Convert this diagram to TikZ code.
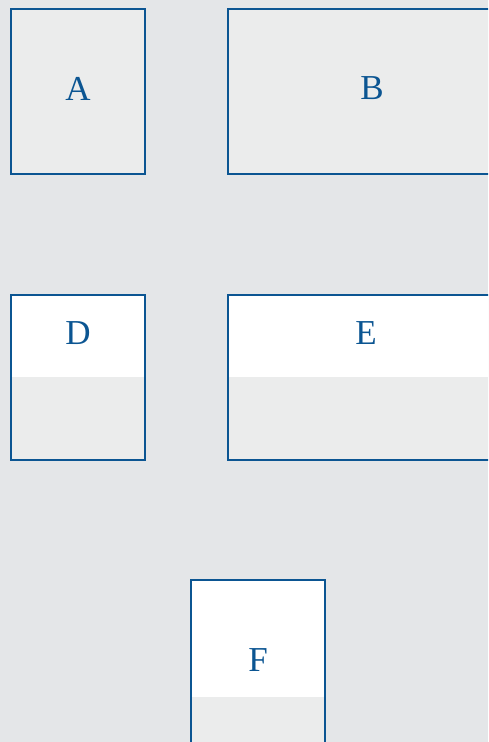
\documentclass[tikz,border=0pt]{standalone}
\usepackage{fontspec}
\setmainfont{Liberation Serif}
\definecolor{bg}{HTML}{E4E6E8}
\definecolor{boxgray}{HTML}{EBECEC}
\definecolor{edge}{HTML}{0B5592}
\begin{document}
\begin{tikzpicture}[x=1pt,y=-1pt,
  box/.style={rectangle,inner sep=0pt,outer sep=0pt,anchor=north west,fill=boxgray,minimum height=165pt},
  border/.style={draw=edge,line width=2.5pt},
  lbl/.style={text=edge,font=\fontsize{35}{40}\selectfont,inner sep=0pt,anchor=base}]
\useasboundingbox (0,0) rectangle (488,742);
\clip (0,0) rectangle (488,742);
\fill[bg] (0,0) rectangle (488,742);
% A
\node[box,minimum width=134pt] (A) at (11,9) {};
\draw[border] (A.north west) rectangle (A.south east);
\node[lbl] (At) at (78,100) {A};
% B
\node[box,minimum width=290pt] (B) at (228,9) {};
\draw[border] (B.north west) rectangle (B.south east);
\node[lbl] (Bt) at (372,99) {B};
% D
\node[box,minimum width=134pt] (D) at (11,295) {};
\fill[white] (D.north west) rectangle (145,377);
\draw[border] (D.north west) rectangle (D.south east);
\node[lbl] (Dt) at (78,344) {D};
% E
\node[box,minimum width=290pt] (E) at (228,295) {};
\fill[white] (E.north west) rectangle (518,377);
\draw[border] (E.north west) rectangle (E.south east);
\node[lbl] (Et) at (366,344) {E};
% F
\node[box,minimum width=134pt,minimum height=200pt] (F) at (191,580) {};
\fill[white] (F.north west) rectangle (325,697);
\draw[border] (F.north west) rectangle (F.south east);
\node[lbl] (Ft) at (258,671) {F};
\end{tikzpicture}
\end{document}
